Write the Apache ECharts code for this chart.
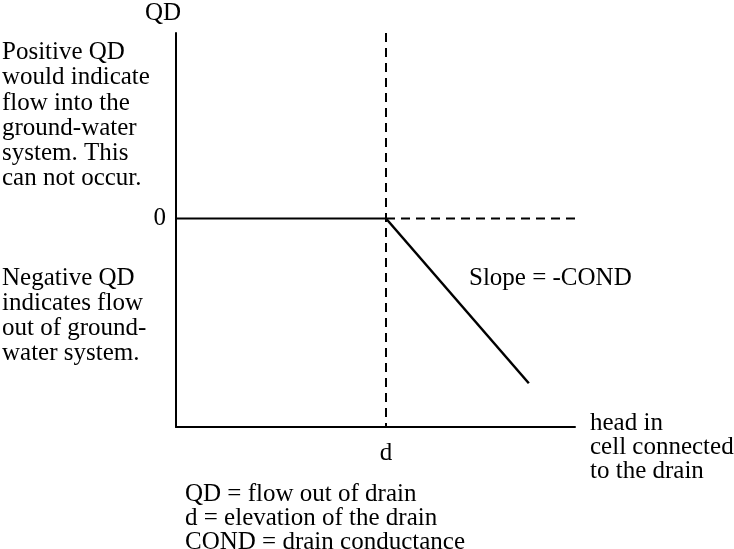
<!DOCTYPE html>
<html>
<head>
<meta charset="utf-8">
<script src="https://cdn.jsdelivr.net/npm/echarts@6/dist/echarts.min.js"></script>
<style>
html,body{margin:0;padding:0;background:#fff;}
#chart{width:734px;height:549px;}
</style>
</head>
<body>
<div id="chart"></div>
<script>
// ---- data ----
var xMin = 0, xMax = 19;          // head in cell
var yMin = -10, yMax = 8.9;       // QD
var xTickValues = [10];
var xTickLabels = ['d'];
var yTickValues = [0];
var yTickLabels = ['0'];
var zeroSolid = [[0, 0], [10, 0]];
var zeroDashed = [[10, 0], [19, 0]];
var drainLine = [[10, 8.9], [10, -10]];
var slopeLine = [[10, 0], [16.8, -7.9]];
var yAxisName = 'QD';
var xAxisName = 'head in\ncell connected\nto the drain';
var noteTop = 'Positive QD\nwould indicate\nflow into the\nground-water\nsystem. This\ncan not occur.';
var noteBottom = 'Negative QD\nindicates flow\nout of ground-\nwater system.';
var slopeNote = 'Slope = -COND';
var legendNote = 'QD = flow out of drain\nd = elevation of the drain\nCOND = drain conductance';

var FONT = '"Liberation Serif", "Times New Roman", serif';
var chart = echarts.init(document.getElementById('chart'), null, {renderer: 'canvas'});

function lineSeries(name, data, type, width) {
  return {
    name: name, type: 'line', data: data, symbol: 'none', silent: true,
    animation: false,
    lineStyle: {color: '#000', width: width, type: type}
  };
}

var option = {
  backgroundColor: '#fff',
  animation: false,
  grid: {left: 176, top: 33, right: 159, bottom: 122, containLabel: false, outerBoundsMode: 'none'},
  xAxis: {
    type: 'value', min: xMin, max: xMax, interval: 1,
    axisLine: {onZero: false, lineStyle: {color: '#000', width: 2}},
    axisTick: {show: false},
    splitLine: {show: false},
    axisLabel: {
      customValues: xTickValues,
      formatter: function (v) { var i = xTickValues.indexOf(v); return i >= 0 ? xTickLabels[i] : ''; },
      fontFamily: FONT, fontSize: 25, color: '#000', margin: 14
    }
  },
  yAxis: {
    type: 'value', min: yMin, max: yMax, interval: 1,
    name: yAxisName, nameLocation: 'end', nameGap: 7,
    nameTextStyle: {fontFamily: FONT, fontSize: 25, lineHeight: 25, color: '#000',
      align: 'center', padding: [0, 26, 0, 0]},
    axisLine: {onZero: false, lineStyle: {color: '#000', width: 2}},
    axisTick: {show: false},
    splitLine: {show: false},
    axisLabel: {
      customValues: yTickValues,
      formatter: function (v) { var i = yTickValues.indexOf(v); return i >= 0 ? yTickLabels[i] : ''; },
      fontFamily: FONT, fontSize: 25, color: '#000', margin: 10
    }
  },
  series: [
    lineSeries('zero', zeroSolid, 'solid', 2),
    lineSeries('zeroDashed', zeroDashed, [9, 6], 2),
    lineSeries('drain', drainLine, [9, 6], 2),
    lineSeries('slope', slopeLine, 'solid', 2.5)
  ],
  graphic: [
    {type: 'text', left: 2, top: 40, silent: true,
      style: {text: noteTop, font: '25px ' + FONT, lineHeight: 25.2, fill: '#000'}},
    {type: 'text', left: 2, top: 266, silent: true,
      style: {text: noteBottom, font: '25px ' + FONT, lineHeight: 25, fill: '#000'}},
    {type: 'text', left: 469, top: 266, silent: true,
      style: {text: slopeNote, font: '25px ' + FONT, lineHeight: 25, fill: '#000'}},
    {type: 'text', left: 590, top: 411, silent: true,
      style: {text: xAxisName, font: '25px ' + FONT, lineHeight: 24, fill: '#000'}},
    {type: 'text', left: 185, top: 482, silent: true,
      style: {text: legendNote, font: '25px ' + FONT, lineHeight: 24, fill: '#000'}}
  ]
};
chart.setOption(option);
</script>
</body>
</html>
